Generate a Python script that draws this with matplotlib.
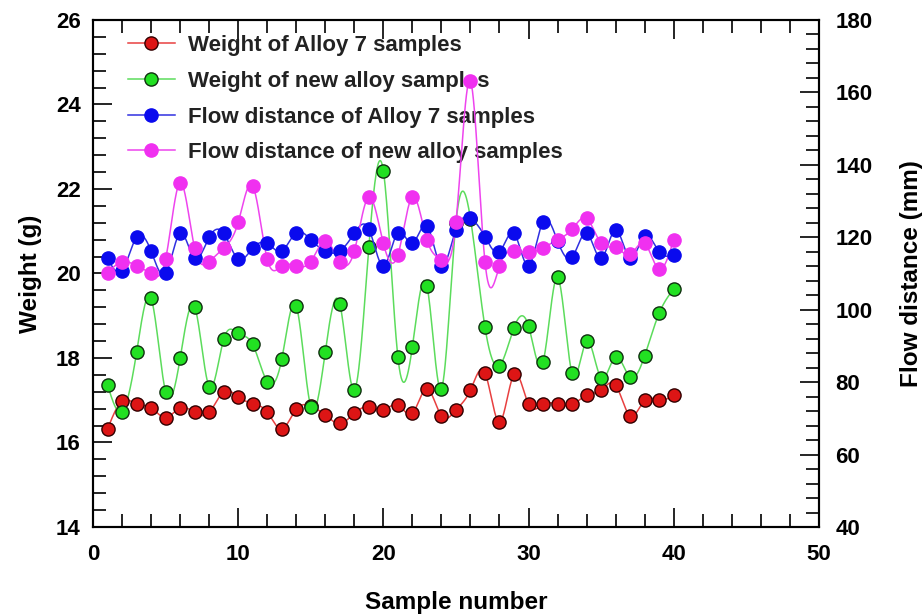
import numpy as np
import matplotlib
matplotlib.use("Agg")
import matplotlib.pyplot as plt
from matplotlib.ticker import MultipleLocator

plt.rcParams['font.family'] = ['Liberation Sans', 'DejaVu Sans']
plt.rcParams['font.weight'] = 'bold'

samples = list(range(1, 41))
weight_alloy7 = [16.32, 16.98, 16.91, 16.82, 16.59, 16.82, 16.71, 16.71, 17.20, 17.08,
                 16.92, 16.72, 16.32, 16.79, 16.86, 16.65, 16.45, 16.69, 16.85, 16.77,
                 16.89, 16.69, 17.27, 16.63, 16.77, 17.24, 17.65, 16.48, 17.61, 16.91,
                 16.90, 16.91, 16.90, 17.12, 17.24, 17.36, 16.63, 17.00, 17.00, 17.12]
weight_new = [17.36, 16.73, 18.13, 19.41, 17.20, 17.99, 19.21, 17.32, 18.44, 18.58,
              18.32, 17.44, 17.97, 19.23, 16.85, 18.15, 19.28, 17.24, 20.62, 22.43,
              18.03, 18.27, 19.71, 17.27, 21.20, 21.30, 18.73, 17.82, 18.72, 18.76,
              17.91, 19.91, 17.64, 18.40, 17.53, 18.03, 17.54, 18.05, 19.06, 19.63]
flow_alloy7 = [114.2, 110.8, 120.0, 116.2, 110.0, 121.1, 114.2, 120.0, 121.1, 114.0,
               117.0, 118.3, 116.2, 121.3, 119.3, 116.2, 116.2, 121.1, 122.3, 112.1,
               121.3, 118.3, 123.2, 112.1, 122.1, 125.2, 120.2, 116.0, 121.1, 112.2,
               124.3, 119.0, 114.5, 121.2, 114.2, 122.0, 114.2, 120.4, 116.0, 115.1]
flow_new = [110.0, 113.3, 112.1, 110.0, 114.0, 135.1, 117.0, 113.3, 117.0, 124.1,
            134.2, 114.0, 112.1, 112.1, 113.3, 119.0, 113.3, 116.2, 131.2, 118.3,
            115.1, 131.2, 119.3, 113.8, 124.1, 163.2, 113.3, 112.1, 116.2, 115.8,
            117.1, 119.3, 122.2, 125.2, 118.3, 117.2, 115.3, 118.3, 111.2, 119.3]

labels = ["Weight of Alloy 7 samples", "Weight of new alloy samples",
          "Flow distance of Alloy 7 samples", "Flow distance of new alloy samples"]


def natural_spline(x, y, n_out=1200):
    x = np.asarray(x, float)
    y = np.asarray(y, float)
    n = len(x)
    h = np.diff(x)
    A = np.zeros((n, n))
    b = np.zeros(n)
    A[0, 0] = 1
    A[-1, -1] = 1
    for i in range(1, n - 1):
        A[i, i - 1] = h[i - 1]
        A[i, i] = 2 * (h[i - 1] + h[i])
        A[i, i + 1] = h[i]
        b[i] = 6 * ((y[i + 1] - y[i]) / h[i] - (y[i] - y[i - 1]) / h[i - 1])
    M = np.linalg.solve(A, b)
    xs = np.linspace(x[0], x[-1], n_out)
    idx = np.clip(np.searchsorted(x, xs) - 1, 0, n - 2)
    x0, x1 = x[idx], x[idx + 1]
    hh = x1 - x0
    t0 = x1 - xs
    t1 = xs - x0
    ys = (M[idx] * t0 ** 3 / (6 * hh) + M[idx + 1] * t1 ** 3 / (6 * hh)
          + (y[idx] / hh - M[idx] * hh / 6) * t0 + (y[idx + 1] / hh - M[idx + 1] * hh / 6) * t1)
    return xs, ys


fig = plt.figure(figsize=(9.22, 6.15), dpi=100)
ax = fig.add_axes([0.1009, 0.1431, 0.7872, 0.8244])
ax2 = ax.twinx()

styles = [
    dict(line='#e84040', face='#dd1515', edge='#300000'),
    dict(line='#5cdc5c', face='#22e022', edge='#103010'),
    dict(line='#3030e0', face='#0a0aee', edge='#0a0aee'),
    dict(line='#ee44ee', face='#f030f0', edge='#f030f0'),
]
series = [(ax, weight_alloy7), (ax, weight_new), (ax2, flow_alloy7), (ax2, flow_new)]

handles = []
for (a, vals), st, lab in zip(series, styles, labels):
    xs, ys = natural_spline(samples, vals)
    a.plot(xs, ys, color=st['line'], lw=1.1, zorder=2)
    a.plot(samples, vals, ls='none', marker='o', ms=9.5, mfc=st['face'],
           mec=st['edge'], mew=1.0, zorder=3)
    h, = ax.plot([], [], color=st['line'], lw=1.1, marker='o', ms=9.5,
                 mfc=st['face'], mec=st['edge'], mew=1.0)
    handles.append(h)

ax.set_xlim(0, 50)
ax.set_ylim(14, 26)
ax2.set_ylim(40, 180)

ax.xaxis.set_major_locator(MultipleLocator(10))
ax.xaxis.set_minor_locator(MultipleLocator(2))
ax.yaxis.set_major_locator(MultipleLocator(2))
ax.yaxis.set_minor_locator(MultipleLocator(0.4))
ax2.yaxis.set_major_locator(MultipleLocator(20))
ax2.yaxis.set_minor_locator(MultipleLocator(4))

ax.tick_params(axis='x', which='both', direction='in', top=True, bottom=True,
               labelsize=16, pad=12)
ax.tick_params(axis='y', which='both', direction='in', left=True, right=False,
               labelsize=16, pad=9)
ax2.tick_params(axis='y', which='both', direction='in', labelsize=16, pad=12)
for a in (ax, ax2):
    a.tick_params(which='major', length=14, width=1.2)
    a.tick_params(which='minor', length=9.5, width=1.2)
    for s in a.spines.values():
        s.set_linewidth(1.5)
for lab in ax.get_xticklabels() + ax.get_yticklabels() + ax2.get_yticklabels():
    lab.set_fontweight('bold')

ax.set_xlabel("Sample number", fontsize=17.5, fontweight='bold', labelpad=19)
ax.set_ylabel("Weight (g)", fontsize=17.5, fontweight='bold', labelpad=10)
ax2.set_ylabel("Flow distance (mm)", fontsize=17.5, fontweight='bold', labelpad=20)

leg = ax.legend(handles, labels, loc='upper left', bbox_to_anchor=(0.048, 0.97),
                frameon=False, fontsize=16, handlelength=2.1, handletextpad=0.6,
                labelspacing=0.66, borderpad=0, borderaxespad=0)
for t in leg.get_texts():
    t.set_fontweight('bold')
    t.set_color('#222222')

fig.savefig("out.png", dpi=100)
